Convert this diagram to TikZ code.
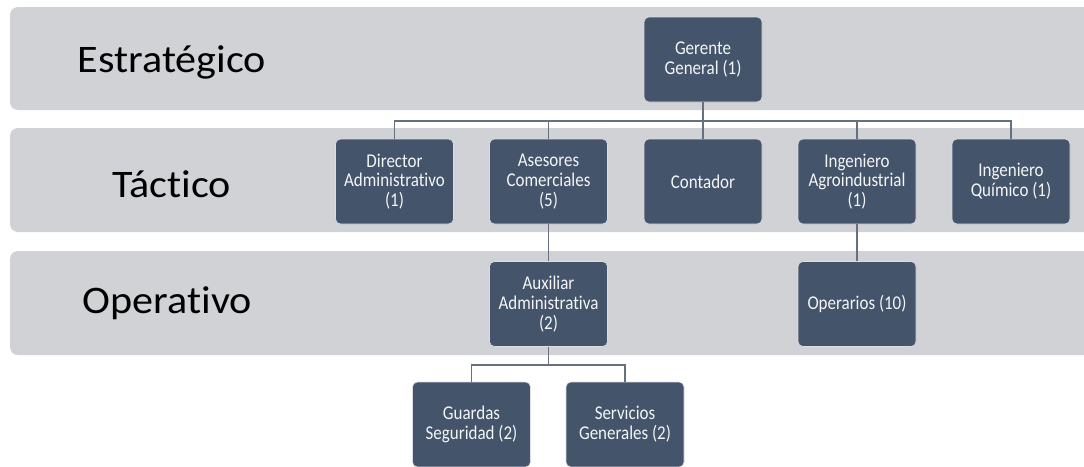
\documentclass[tikz,border=0pt]{standalone}
\usepackage{fontspec}
\newfontfamily\carlito[FakeStretch=0.87,RawFeature={-liga}]{Carlito}
\newfontfamily\carlitowide[FakeStretch=1.08,RawFeature={-liga}]{Carlito}
\definecolor{bandgray}{HTML}{D0D2D6}
\definecolor{boxblue}{HTML}{44546A}
\definecolor{linegray}{HTML}{66707E}
\tikzset{
  band/.style={fill=bandgray, draw=none, rounded corners=8pt},
  orgbox/.style={fill=boxblue, draw=white!80!boxblue, line width=0.6pt, rounded corners=5pt,
    minimum width=118pt, minimum height=85pt, inner sep=2pt, align=center, text=white!94!boxblue,
    font=\carlito\fontsize{19.5}{19.8}\selectfont},
  levellabel/.style={anchor=base, inner sep=0pt, font=\carlitowide\fontsize{39}{44}\selectfont, text=black},
  conn/.style={draw=linegray, line width=1.5pt}
}
\begin{document}
\begin{tikzpicture}[x=1pt,y=-1pt]
\useasboundingbox (0,0) rectangle (1084,466);
% bands
\fill[band] (10,7) rectangle (1100,110);
\fill[band] (10,128) rectangle (1100,232);
\fill[band] (10,251) rectangle (1100,355);
% level labels
\node[levellabel] (lvl1) at (172,72) {Estratégico};
\node[levellabel] (lvl2) at (171.5,197) {Táctico};
\node[levellabel] (lvl3) at (167.5,313) {Operativo};
% boxes
\node[orgbox] (ger) at (703,59.5) {Gerente\\General (1)};
\node[orgbox] (dir) at (394.5,181.5) {Director\\Administrativo\\(1)};
\node[orgbox] (ase) at (548.5,181.5) {Asesores\\Comerciales\\(5)};
\node[orgbox] (con) at (703,181.5) {Contador};
\node[orgbox] (iag) at (857,181.5) {Ingeniero\\Agroindustrial\\(1)};
\node[orgbox] (iqu) at (1011,181.5) {Ingeniero\\Químico (1)};
\node[orgbox] (aux) at (548.5,304) {Auxiliar\\Administrativa\\(2)};
\node[orgbox] (ope) at (857,304) {Operarios (10)};
\node[orgbox] (gua) at (471.5,424.5) {Guardas\\Seguridad (2)};
\node[orgbox] (ser) at (625,424.5) {Servicios\\Generales (2)};
% connectors
\coordinate (bus) at (703,121);
\coordinate (bus2) at (548.5,365);
\draw[conn] (ger.south) -- (bus);
\draw[conn] (bus) -| (dir.north);
\draw[conn] (bus) -| (ase.north);
\draw[conn] (bus) -- (con.north);
\draw[conn] (bus) -| (iag.north);
\draw[conn] (bus) -| (iqu.north);
\draw[conn] (ase.south) -- (aux.north);
\draw[conn] (iag.south) -- (ope.north);
\draw[conn] (aux.south) -- (bus2);
\draw[conn] (bus2) -| (gua.north);
\draw[conn] (bus2) -| (ser.north);
\end{tikzpicture}
\end{document}
